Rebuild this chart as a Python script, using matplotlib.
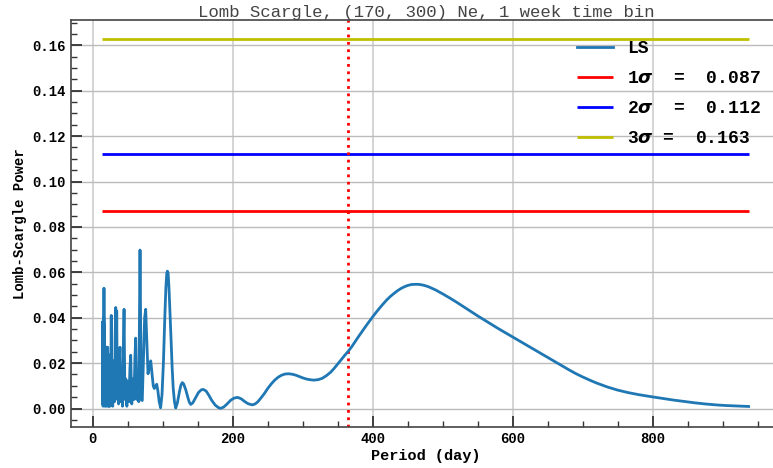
import matplotlib
matplotlib.use('Agg')
import matplotlib.pyplot as plt
from matplotlib.ticker import MultipleLocator

plt.rcParams['font.family'] = ['Liberation Mono', 'DejaVu Sans']
plt.rcParams['mathtext.fontset'] = 'custom'
plt.rcParams['mathtext.it'] = 'DejaVu Sans:italic:bold'
plt.rcParams['mathtext.rm'] = 'Liberation Mono:bold'

# Lomb-Scargle periodogram (period in days, power)
period = [13.8, 13.95, 14.1, 14.25, 14.4, 14.55, 14.7, 14.85, 15.0, 15.15,
          15.35, 15.5, 15.7, 15.9, 16.1, 16.25, 16.45, 16.6, 16.8, 17.0,
          17.2, 17.45, 17.65, 17.9, 18.1, 18.35, 18.6, 18.85, 19.1, 19.35,
          19.6, 19.9, 20.2, 20.5, 20.8, 21.1, 21.4, 21.75, 22.1, 22.45,
          22.8, 23.15, 23.5, 23.9, 24.3, 24.75, 25.2, 25.7, 26.5, 27.2,
          27.9, 28.6, 29.3, 30.0, 30.7, 31.3, 32.0, 32.9, 33.6, 34.3,
          35.2, 36.1, 37.0, 37.9, 39.0, 40.1, 41.3, 42.5, 43.7, 44.8,
          46.0, 47.4, 48.8, 50.3, 51.8, 53.2, 54.3, 55.8, 57.5, 59.0,
          60.3, 61.4, 62.8, 64.2, 65.8, 67.6, 69.4, 70.8, 72.5, 74.2,
          75.7, 77.3, 79.0, 81.0, 82.9, 84.5, 86.5, 88.0, 90.0, 91.5,
          93.0, 95.0, 97.0, 99.0, 101.0, 103.0, 104.5, 105.8, 106.7, 107.8,
          109.0, 110.5, 112.0, 113.5, 115.0, 116.8, 118.6, 121.0, 124.0, 126.0,
          128.0, 130.0, 133.0, 136.0, 138.0, 140.0, 143.0, 147.0, 151.0, 155.0,
          158.0, 162.0, 166.0, 170.0, 175.0, 180.0, 183.0, 187.0, 192.0, 197.0,
          202.0, 207.0, 212.0, 217.0, 222.0, 228.0, 232.0, 236.0, 240.0, 245.0,
          250.0, 255.0, 260.0, 265.0, 270.0, 275.0, 280.0, 285.0, 290.0, 295.0,
          300.0, 305.0, 310.0, 316.0, 322.0, 328.0, 334.0, 340.0, 345.0, 350.0,
          355.0, 360.0, 365.0, 370.0, 375.0, 380.0, 385.0, 390.0, 395.0, 400.0,
          405.0, 410.0, 415.0, 420.0, 425.0, 430.0, 435.0, 440.0, 445.0, 450.0,
          455.0, 460.0, 465.0, 470.0, 475.0, 480.0, 490.0, 500.0, 510.0, 520.0,
          530.0, 540.0, 550.0, 560.0, 570.0, 580.0, 590.0, 600.0, 610.0, 620.0,
          630.0, 640.0, 650.0, 660.0, 670.0, 680.0, 690.0, 700.0, 710.0, 720.0,
          735.0, 750.0, 765.0, 780.0, 800.0, 815.0, 830.0, 845.0, 860.0, 875.0,
          890.0, 905.0, 920.0, 937.0]
power = [0.038, 0.003, 0.037, 0.002, 0.033, 0.004, 0.036, 0.001, 0.028, 0.005,
         0.034, 0.002, 0.040, 0.003, 0.053, 0.006, 0.037, 0.002, 0.030, 0.004,
         0.028, 0.001, 0.026, 0.005, 0.022, 0.002, 0.027, 0.006, 0.020, 0.001,
         0.025, 0.004, 0.018, 0.002, 0.021, 0.003, 0.027, 0.001, 0.024, 0.006,
         0.015, 0.001, 0.020, 0.004, 0.013, 0.001, 0.022, 0.003, 0.041, 0.002,
         0.017, 0.001, 0.021, 0.006, 0.018, 0.003, 0.030, 0.0445, 0.006, 0.043,
         0.004, 0.016, 0.002, 0.020, 0.027, 0.003, 0.013, 0.001, 0.025, 0.0437,
         0.004, 0.013, 0.001, 0.012, 0.003, 0.018, 0.0235, 0.002, 0.013, 0.004,
         0.022, 0.031, 0.004, 0.009, 0.003, 0.0698, 0.004, 0.0035, 0.022, 0.040,
         0.0437, 0.030, 0.0153, 0.018, 0.021, 0.016, 0.010, 0.0088, 0.0100, 0.0107,
         0.008, 0.003, 0.0003, 0.006, 0.020, 0.040, 0.053, 0.0595, 0.0605, 0.0595,
         0.053, 0.042, 0.030, 0.018, 0.009, 0.003, 0.0002, 0.0025, 0.0075, 0.0103,
         0.0114, 0.0108, 0.0082, 0.0048, 0.0028, 0.0018, 0.0025, 0.0048, 0.0070, 0.0082,
         0.0084, 0.0077, 0.0058, 0.0036, 0.0015, 0.0003, 0.0001, 0.0006, 0.0020, 0.0036,
         0.0046, 0.0049, 0.0043, 0.0031, 0.0021, 0.0016, 0.0020, 0.0030, 0.0045, 0.0065,
         0.0088, 0.0108, 0.0125, 0.0138, 0.0147, 0.0152, 0.0153, 0.0151, 0.0147, 0.0141,
         0.0135, 0.0130, 0.0127, 0.0125, 0.0127, 0.0133, 0.0145, 0.0160, 0.0177, 0.0196,
         0.0215, 0.0234, 0.0252, 0.0272, 0.0295, 0.0318, 0.0340, 0.0362, 0.0383, 0.0404,
         0.0424, 0.0443, 0.0461, 0.0478, 0.0493, 0.0506, 0.0518, 0.0528, 0.0536, 0.0542,
         0.0546, 0.0547, 0.0547, 0.0545, 0.0541, 0.0536, 0.0522, 0.0505, 0.0487, 0.0468,
         0.0448, 0.0428, 0.0408, 0.0389, 0.0370, 0.0351, 0.0333, 0.0315, 0.0297, 0.0279,
         0.0261, 0.0243, 0.0225, 0.0207, 0.0189, 0.0171, 0.0154, 0.0139, 0.0125, 0.0112,
         0.0095, 0.0081, 0.0070, 0.0061, 0.0051, 0.0044, 0.0037, 0.0031, 0.0025, 0.0020,
         0.0016, 0.0013, 0.0011, 0.0009]

# significance levels
sig_names = ['1', '2', '3']
sig_values = [0.087, 0.112, 0.163]
sig_colors = ['r', 'b', 'y']
sig_gaps = ['  ', '  ', ' ']
one_year = 365

fig = plt.figure(figsize=(7.73, 4.68), dpi=100)
ax = fig.add_axes([71 / 773, 41 / 468, 709.8 / 773, 407 / 468])

ax.plot(period, power, color='#1f77b4', lw=2, label='LS', zorder=3,
        solid_joinstyle='round')
for name, val, col, gap in zip(sig_names, sig_values, sig_colors, sig_gaps):
    ax.hlines(val, period[0], period[-1], colors=col, lw=2,
              label=name + r'$\sigma$' + gap + '=  ' + f'{val:.3f}')
ax.axvline(one_year, color='r', ls=':', lw=2)

ax.set_xlim(-31, 983)
ax.set_ylim(-0.00815, 0.17115)
ax.xaxis.set_major_locator(MultipleLocator(200))
ax.xaxis.set_minor_locator(MultipleLocator(50))
ax.yaxis.set_major_locator(MultipleLocator(0.02))
ax.yaxis.set_minor_locator(MultipleLocator(0.005))
ax.yaxis.set_major_formatter(plt.FuncFormatter(lambda v, p: f'{v:.2f}'))

ax.tick_params(which='both', direction='in', top=False, right=False,
               color='#333333')
ax.tick_params(which='major', length=8, width=1.3, labelsize=10)
ax.tick_params(which='minor', length=4, width=1)
for lab in ax.get_xticklabels() + ax.get_yticklabels():
    lab.set_fontweight('bold')

ax.xaxis.grid(True, color='#d4d4d4', lw=1.4)
ax.yaxis.grid(True, color='#bbbbbb', lw=1)
ax.set_axisbelow(True)
for sp in ax.spines.values():
    sp.set_color('#444444')
    sp.set_linewidth(1.2)

ax.set_xlabel('Period (day)', fontsize=11, fontweight='bold', labelpad=2)
ax.set_ylabel('Lomb-Scargle Power', fontsize=10, fontweight='bold', labelpad=4)
ax.set_title('Lomb Scargle, (170, 300) Ne, 1 week time bin', fontsize=12.5,
             color='#444444', pad=1.5)

leg = ax.legend(loc='upper right', frameon=False, labelspacing=0.72,
                borderaxespad=0.7,
                prop={'family': 'Liberation Mono', 'weight': 'bold', 'size': 13})

fig.savefig('out.png', dpi=100)
